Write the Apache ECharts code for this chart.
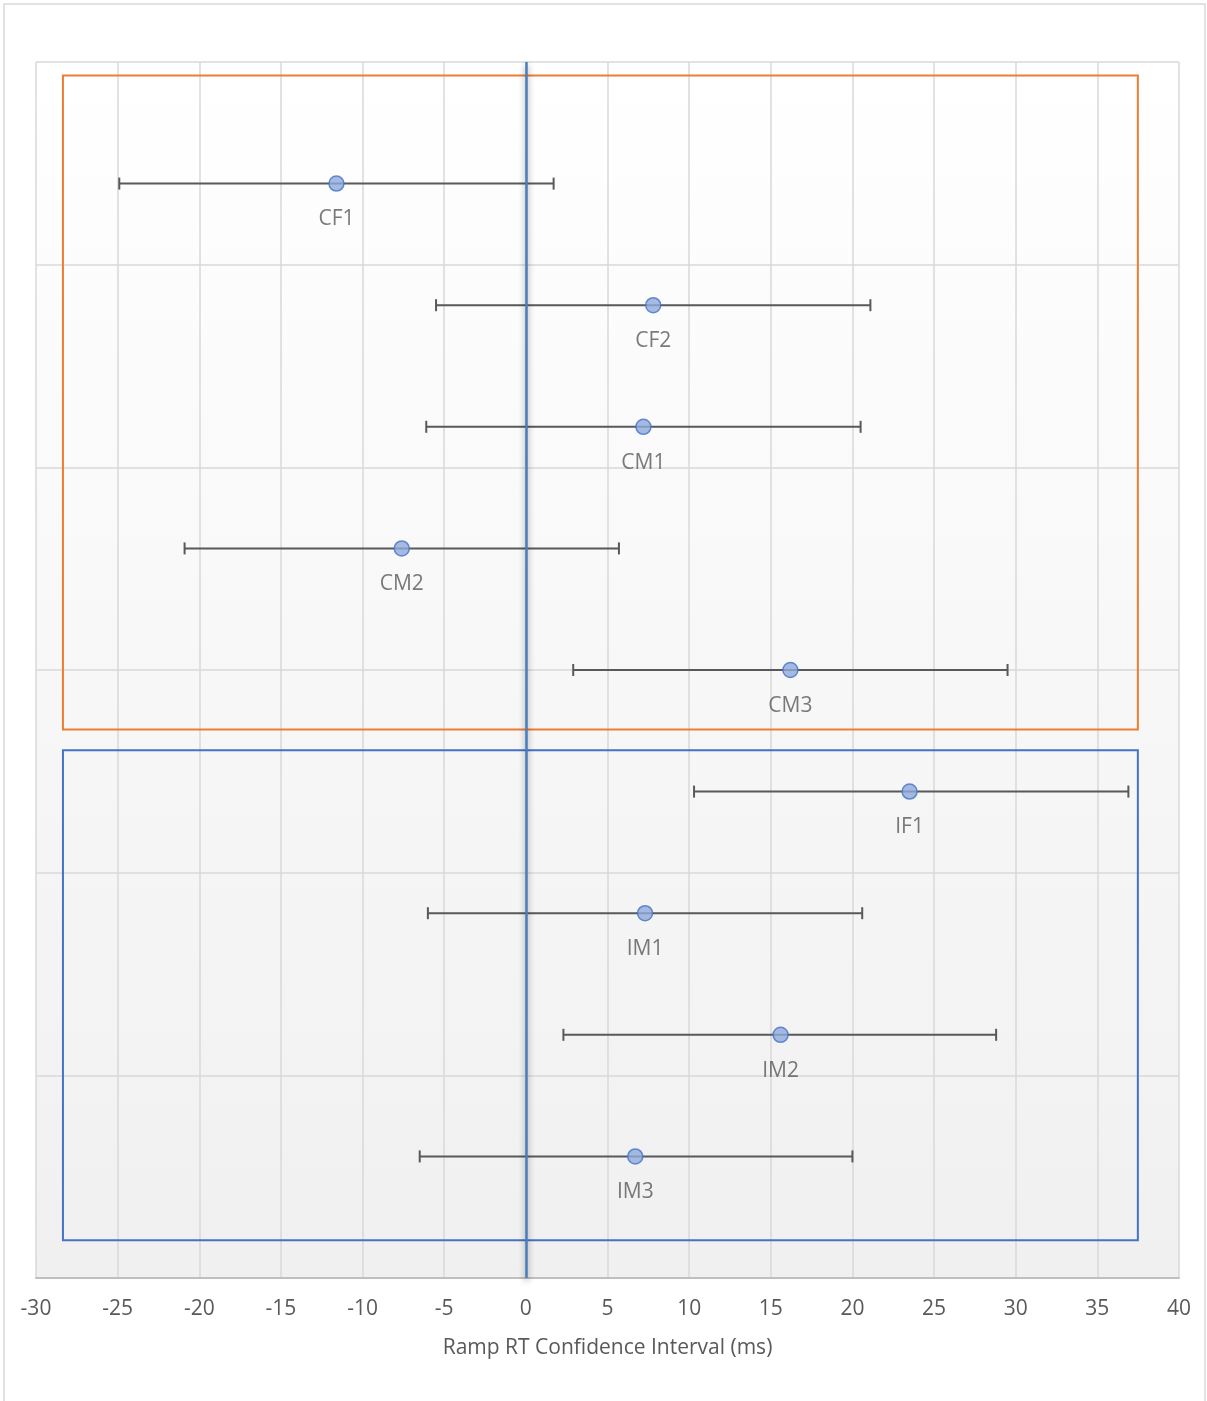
<!DOCTYPE html>
<html>
<head>
<meta charset="utf-8">
<script src="https://cdn.jsdelivr.net/npm/echarts@6/dist/echarts.min.js"></script>
<style>
  html, body { margin: 0; padding: 0; background: #fff; }
  #chart { width: 1207px; height: 1401px; }
</style>
</head>
<body>
<div id="chart"></div>
<script>
const groups = ["CF1", "CF2", "CM1", "CM2", "CM3", "IF1", "IM1", "IM2", "IM3"];
const rows = [9, 8, 7, 6, 5, 4, 3, 2, 1];
const means = [-11.6, 7.8, 7.2, -7.6, 16.2, 23.5, 7.3, 15.6, 6.7];
const lows = [-24.9, -5.5, -6.1, -20.9, 2.9, 10.3, -6.0, 2.3, -6.5];
const highs = [1.7, 21.1, 20.5, 5.7, 29.5, 36.9, 20.6, 28.8, 20.0];

// annotation boxes (data coords): [xFrom, yFrom, xTo, yTo]
const controlBox = [-28.35, 9.89, 37.48, 4.51];
const injuryBox = [-28.35, 4.34, 37.48, 0.31];

const chart = echarts.init(document.getElementById("chart"));

const errData = groups.map((g, i) => [lows[i], highs[i], rows[i]]);
const pointData = groups.map((g, i) => ({ value: [means[i], rows[i]], name: g }));

chart.setOption({
    backgroundColor: "#fff",
    textStyle: { fontFamily: "Open Sans" },
    graphic: [{
        type: "rect",
        shape: { x: 4, y: 4, width: 1201, height: 1420 },
        style: { fill: null, stroke: "#d9d9d9", lineWidth: 1.5 },
        silent: true
    }],
    grid: {
        left: 36, right: 28, top: 62, bottom: 123,
        show: true,
        borderWidth: 0,
        backgroundColor: {
            type: "linear", x: 0, y: 0, x2: 0, y2: 1,
            colorStops: [{ offset: 0, color: "#ffffff" }, { offset: 1, color: "#f0f0f0" }]
        }
    },
    xAxis: {
        type: "value",
        min: -30, max: 40, interval: 5,
        name: "Ramp RT Confidence Interval (ms)",
        nameLocation: "middle",
        nameGap: 60,
        nameTextStyle: { fontSize: 21, color: "#595959" },
        axisLine: { show: true, onZero: false, lineStyle: { color: "#bfbfbf", width: 2 } },
        axisTick: { show: false },
        axisLabel: { fontSize: 21, color: "#595959", margin: 21 },
        splitLine: { show: true, lineStyle: { color: "#d9d9d9", width: 1.5 } }
    },
    yAxis: {
        type: "value",
        min: 0, max: 10, interval: 10 / 6,
        axisLine: { show: false },
        axisTick: { show: false },
        axisLabel: { show: false },
        splitLine: { show: true, lineStyle: { color: "#d9d9d9", width: 1.5 } }
    },
    series: [
        {
            type: "custom",
            name: "ci",
            silent: true,
            data: errData,
            encode: { x: [0, 1], y: 2 },
            z: 3,
            renderItem: function (params, api) {
                const y = api.value(2);
                const a = api.coord([api.value(0), y]);
                const b = api.coord([api.value(1), y]);
                const cap = 6;
                const style = { stroke: "#595959", lineWidth: 2 };
                return {
                    type: "group",
                    children: [
                        { type: "line", shape: { x1: a[0], y1: a[1], x2: b[0], y2: b[1] }, style: style },
                        { type: "line", shape: { x1: a[0], y1: a[1] - cap, x2: a[0], y2: a[1] + cap }, style: style },
                        { type: "line", shape: { x1: b[0], y1: b[1] - cap, x2: b[0], y2: b[1] + cap }, style: style }
                    ]
                };
            }
        },
        {
            type: "scatter",
            name: "mean",
            data: pointData,
            symbol: "circle",
            symbolSize: 15,
            z: 5,
            itemStyle: { color: "#8faadc", borderColor: "#4472c4", borderWidth: 1.5 },
            label: {
                show: true,
                position: "bottom",
                distance: 17,
                formatter: "{b}",
                fontSize: 21,
                color: "#595959"
            },
            markLine: {
                silent: true,
                symbol: "none",
                label: { show: false },
                lineStyle: {
                    color: "#4a7ebb", width: 2.5, type: "solid",
                    shadowColor: "rgba(0,0,0,0.45)", shadowBlur: 6, shadowOffsetX: 0, shadowOffsetY: 3
                },
                data: [{ xAxis: 0 }]
            },
            markArea: {
                silent: true,
                label: { show: false },
                data: [
                    [
                        { coord: [controlBox[0], controlBox[1]], itemStyle: { color: "rgba(0,0,0,0)", borderColor: "#ed7d31", borderWidth: 2 } },
                        { coord: [controlBox[2], controlBox[3]] }
                    ],
                    [
                        { coord: [injuryBox[0], injuryBox[1]], itemStyle: { color: "rgba(0,0,0,0)", borderColor: "#4472c4", borderWidth: 2 } },
                        { coord: [injuryBox[2], injuryBox[3]] }
                    ]
                ]
            }
        }
    ]
});
</script>
</body>
</html>
